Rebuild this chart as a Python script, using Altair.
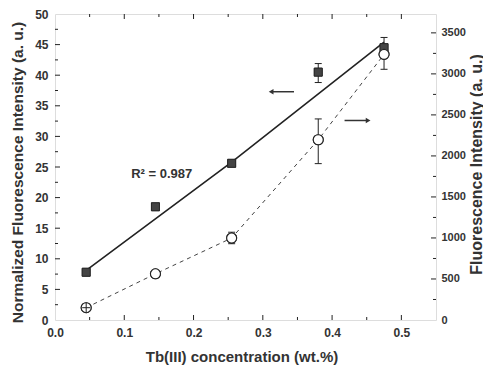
import altair as alt
import pandas as pd

# ---- data ----
conc = [0.045, 0.145, 0.255, 0.38, 0.475]
norm_intensity = [7.8, 18.5, 25.6, 40.5, 44.5]          # left axis, filled squares
fluor_intensity = [150, 563, 999, 2197, 3238]            # right axis, open circles

sq_err_x = [0.38]
sq_err_lo = [38.8]
sq_err_hi = [41.9]

ci_err_x = [0.255, 0.38, 0.475]
ci_err_lo = [930, 1906, 3056]
ci_err_hi = [1070, 2451, 3444]

# small error bar drawn over the first circle (looks like a crossed circle)
ci_inner_x = [0.045]
ci_inner_lo = [90]
ci_inner_hi = [210]
ci_inner_mid = [150]

fit_x = [0.045, 0.255, 0.475]
fit_y = [8.1, 25.8, 45.4]

r2_label = ["R\u00b2 = 0.987"]
r2_x = [0.154]
r2_y = [23.9]

arrow_left_x = [0.345]
arrow_left_x2 = [0.312]
arrow_left_y = [37.3]
arrow_right_x = [0.418]
arrow_right_x2 = [0.452]
arrow_right_y = [32.6]

x_major = [0.1, 0.2, 0.3, 0.4, 0.5]
x_minor = [0.05, 0.15, 0.25, 0.35, 0.45]
yl_major = [5, 10, 15, 20, 25, 30, 35, 40, 45]
yl_minor = [2.5, 7.5, 12.5, 17.5, 22.5, 27.5, 32.5, 37.5, 42.5, 47.5]
yr_major = [500, 1000, 1500, 2000, 2500, 3000, 3500]
yr_minor = [250, 750, 1250, 1750, 2250, 2750, 3250]

x_labels = [0.0, 0.1, 0.2, 0.3, 0.4, 0.5]
yl_labels = [0, 5, 10, 15, 20, 25, 30, 35, 40, 45, 50]
yr_labels = [0, 500, 1000, 1500, 2000, 2500, 3000, 3500]

W, H = 381, 306
FONT = "Liberation Sans"
INK = "#222222"
TXT = "#333333"

xscale = alt.Scale(domain=[0, 0.55], nice=False)
lscale = alt.Scale(domain=[0, 50], nice=False)
rscale = alt.Scale(domain=[0, 3730], nice=False)

x_axis = alt.Axis(values=x_labels, format=".1f", domain=False, ticks=False, grid=False,
                  labelFlush=False, labelFont=FONT, labelFontWeight="bold", labelFontSize=12,
                  labelColor=TXT, labelPadding=7, title="Tb(III) concentration (wt.%)",
                  titleFont=FONT, titleFontSize=15, titleFontWeight="bold", titleColor=TXT,
                  titleX=W / 2 - 4, titleY=36, titleBaseline="middle", titleAlign="center")


def X(field):
    return alt.X(field, type="quantitative", scale=xscale, axis=x_axis)


def YL(field, axis=None):
    return alt.Y(field, type="quantitative", scale=lscale, axis=axis)


def YR(field, axis=None):
    return alt.Y(field, type="quantitative", scale=rscale, axis=axis)


main = pd.DataFrame({"x": conc, "n": norm_intensity, "f": fluor_intensity})
fit = pd.DataFrame({"x": fit_x, "y": fit_y})
sqerr = pd.DataFrame({"x": sq_err_x, "lo": sq_err_lo, "hi": sq_err_hi})
cierr = pd.DataFrame({"x": ci_err_x, "lo": ci_err_lo, "hi": ci_err_hi})
ciinner = pd.DataFrame({"x": ci_inner_x, "lo": ci_inner_lo, "hi": ci_inner_hi, "m": ci_inner_mid})

left_axis = alt.Axis(orient="left", values=yl_labels, domain=False, ticks=False, grid=False,
                     labelFlush=False, labelFont=FONT, labelFontWeight="bold", labelFontSize=12,
                     labelColor=TXT, labelPadding=7, title="Normalized Fluorescence Intensity (a. u.)",
                     titleFont=FONT, titleFontSize=15.5, titleFontWeight="bold", titleColor=TXT,
                     titleX=-38, titleY=158, titleAngle=270, titleBaseline="middle", titleAlign="center")
right_axis = alt.Axis(orient="right", values=yr_labels, format="d", domain=False, ticks=False, grid=False,
                      labelFlush=False, labelFont=FONT, labelFontWeight="bold", labelFontSize=11,
                      labelColor=TXT, labelPadding=5, title="Fluorescence Intensity (a. u.)",
                      titleFont=FONT, titleFontSize=16, titleFontWeight="bold", titleColor=TXT,
                      titleX=40, titleY=150, titleAngle=270, titleBaseline="middle", titleAlign="center")

squares = alt.Chart(main).mark_point(shape="square", filled=True, fill="#444", stroke=INK,
                                     strokeWidth=0.8, size=64, opacity=1).encode(
    x=X("x"), y=YL("n", left_axis))

circles = alt.Chart(main).mark_point(shape="circle", filled=True, fill="white", stroke=INK,
                                     strokeWidth=1.1, size=100, opacity=1).encode(
    x=X("x"), y=YR("f", right_axis))

fit_line = alt.Chart(fit).mark_line(color=INK, strokeWidth=1.6).encode(x=X("x"), y=YL("y"))
dash_line = alt.Chart(main).mark_line(color="#444", strokeWidth=1, strokeDash=[4, 4]).encode(
    x=X("x"), y=YR("f"))

cap_shape = "M-1,0L1,0"


def cap(df, field, yfn, size=49):
    return alt.Chart(df).mark_point(shape=cap_shape, stroke=INK, strokeWidth=1, size=size,
                                    opacity=1).encode(x=X("x"), y=yfn(field))


sq_bar = alt.Chart(sqerr).mark_rule(color=INK, strokeWidth=1).encode(x=X("x"), y=YL("lo"), y2="hi")
ci_bar = alt.Chart(cierr).mark_rule(color=INK, strokeWidth=1).encode(x=X("x"), y=YR("lo"), y2="hi")
in_bar = alt.Chart(ciinner).mark_rule(color=INK, strokeWidth=1).encode(x=X("x"), y=YR("lo"), y2="hi")

r2 = alt.Chart(pd.DataFrame({"x": r2_x, "y": r2_y, "t": r2_label})).mark_text(
    font=FONT, fontSize=13, fontWeight="bold", color=TXT).encode(x=X("x"), y=YL("y"), text="t:N")

arrL = pd.DataFrame({"x": arrow_left_x, "x2": arrow_left_x2, "y": arrow_left_y})
arrR = pd.DataFrame({"x": arrow_right_x, "x2": arrow_right_x2, "y": arrow_right_y})
arrow_l_line = alt.Chart(arrL).mark_rule(color="#333", strokeWidth=1.5).encode(x=X("x"), x2="x2", y=YL("y"))
arrow_l_head = alt.Chart(arrL).mark_point(shape="triangle-left", filled=True, color="#333", size=30,
                                          opacity=1).encode(x=X("x2"), y=YL("y"))
arrow_r_line = alt.Chart(arrR).mark_rule(color="#333", strokeWidth=1.5).encode(x=X("x"), x2="x2", y=YL("y"))
arrow_r_head = alt.Chart(arrR).mark_point(shape="triangle-right", filled=True, color="#333", size=30,
                                          opacity=1).encode(x=X("x2"), y=YL("y"))


def xticks(vals, length, top):
    d = pd.DataFrame({"v": vals})
    if top:
        return alt.Chart(d).mark_rule(color=INK, strokeWidth=1).encode(
            x=X("v"), y=alt.value(0), y2=alt.value(length))
    return alt.Chart(d).mark_rule(color=INK, strokeWidth=1).encode(
        x=X("v"), y=alt.value(H), y2=alt.value(H - length))


def ylticks(vals, length):
    d = pd.DataFrame({"v": vals})
    return alt.Chart(d).mark_rule(color=INK, strokeWidth=1).encode(
        y=YL("v"), x=alt.value(0), x2=alt.value(length))


def yrticks(vals, length):
    d = pd.DataFrame({"v": vals})
    return alt.Chart(d).mark_rule(color=INK, strokeWidth=1).encode(
        y=YR("v"), x=alt.value(W), x2=alt.value(W - length))


chart = alt.layer(
    squares, circles,
    fit_line, dash_line,
    sq_bar, cap(sqerr, "lo", YL), cap(sqerr, "hi", YL),
    ci_bar, cap(cierr, "lo", YR), cap(cierr, "hi", YR),
    r2, arrow_l_line, arrow_l_head, arrow_r_line, arrow_r_head,
    xticks(x_major, 5, False), xticks(x_minor, 3, False),
    xticks(x_major, 5, True), xticks(x_minor, 3, True),
    ylticks(yl_major, 5), ylticks(yl_minor, 3),
    yrticks(yr_major, 5), yrticks(yr_minor, 3),
    # markers redrawn on top of lines
    alt.Chart(main).mark_point(shape="square", filled=True, fill="#444", stroke=INK,
                               strokeWidth=0.8, size=64, opacity=1).encode(x=X("x"), y=YL("n")),
    alt.Chart(main).mark_point(shape="circle", filled=True, fill="white", stroke=INK,
                               strokeWidth=1.1, size=100, opacity=1).encode(x=X("x"), y=YR("f")),
    # crossed first circle
    in_bar, cap(ciinner, "m", YR, size=64),
).resolve_scale(y="independent").properties(
    width=W, height=H,
    padding={"left": 47, "top": 6, "right": 47, "bottom": 46},
    autosize=alt.AutoSizeParams(type="none"),
).configure_view(stroke=INK, strokeWidth=1.3).configure(background="white")

chart.save("out.html", embed_options={"renderer": "svg", "actions": False})
